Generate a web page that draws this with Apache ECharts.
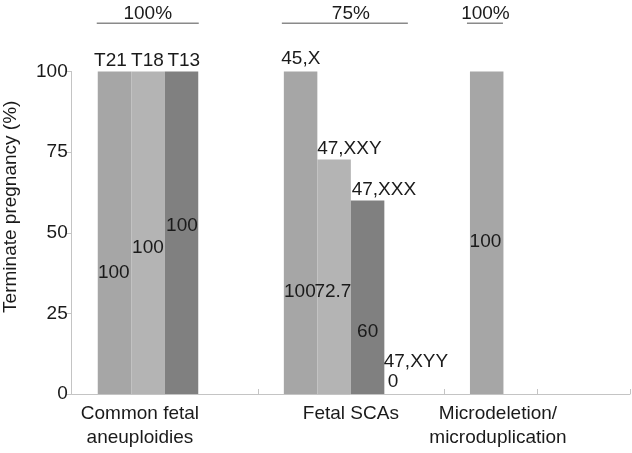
<!DOCTYPE html>
<html><head><meta charset="utf-8">
<script src="https://cdn.jsdelivr.net/npm/echarts@6/dist/echarts.min.js"></script>
<style>html,body{margin:0;padding:0;background:#fff}#c{width:632px;height:453px}</style>
</head><body><div id="c"></div>
<script>
// ---- data ----
const categories = ['Common fetal\naneuploidies', 'Fetal SCAs', 'Microdeletion/\nmicroduplication'];
const slot1Values = [100, 100, 100];
const slot2Values = [100, 72.7, null];
const slot3Values = [100, 60, null];
const slot4Values = [null, 0, null];
const slot1Names = ['T21', '45,X', ''];
const slot2Names = ['T18', '47,XXY', ''];
const slot3Names = ['T13', '47,XXX', ''];
const slot4Names = ['', '47,XYY', ''];
const bracketLabels = ['100%', '75%', '100%'];
const yTicks = [0, 25, 50, 75, 100];

// ---- layout / style ----
const FONT = '"Liberation Sans", Arial, Helvetica, sans-serif';
const FS = 19;
const TXT = '#1a1a1a';
const BAR_W = 33.5;
const colors = ['#a6a6a6', '#b4b4b4', '#808080', '#a6a6a6'];
// label centre offsets [dx, dy] from bar top-left
const valueLabelPos = [
  [[16, 201.5], [16, 220], [15.5, 170]],
  [[16.7, 176.5], [15.6, 132.3], null],
  [[17.2, 154.5], [16.8, 131], null],
  [null, [8.6, -12.3], null]
];
const nameLabelPos = [
  [[12.7, -10.5], [17, -12.5], null],
  [[16.2, -10.5], [32, -10.4], null],
  [[19, -10.5], [33, -10.5], null],
  [null, [31.6, -32.3], null]
];
// bracket: [lineStart dx, lineEnd dx, text dx] from category centre
const bracketLayout = [[-68, 34, -17], [-69, 57, 0], [-70, -34, -51.5]];
const labelShift = [49.6, 0, 78];

const values = [slot1Values, slot2Values, slot3Values, slot4Values];
const names = [slot1Names, slot2Names, slot3Names, slot4Names];

const series = [];
values.forEach((vals, s) => {
  series.push({
    type: 'bar', xAxisIndex: 0, yAxisIndex: 0, barWidth: BAR_W, barGap: '0%',
    silent: true, animation: false,
    itemStyle: { color: colors[s] },
    label: { fontFamily: FONT, fontSize: FS, color: TXT, formatter: p => String(p.value) },
    data: vals.map((v, i) => ({
      value: v,
      label: {
        show: v != null && valueLabelPos[s][i] != null,
        position: valueLabelPos[s][i] || [0, 0],
        align: 'center', verticalAlign: 'middle'
      }
    }))
  });
});
values.forEach((vals, s) => {
  series.push({
    type: 'bar', xAxisIndex: 1, yAxisIndex: 0, barWidth: BAR_W, barGap: '0%',
    silent: true, animation: false,
    itemStyle: { color: 'rgba(0,0,0,0)' },
    label: { fontFamily: FONT, fontSize: FS, color: TXT, formatter: p => names[s][p.dataIndex] },
    data: vals.map((v, i) => ({
      value: v,
      label: {
        show: v != null && nameLabelPos[s][i] != null && names[s][i] !== '',
        position: nameLabelPos[s][i] || [0, 0],
        align: 'center', verticalAlign: 'middle'
      }
    }))
  });
});
series.push({
  type: 'custom', xAxisIndex: 0, yAxisIndex: 0, silent: true, animation: false, clip: false,
  data: bracketLabels.map((t, i) => [i, yTicks[yTicks.length - 1]]),
  renderItem: (params, api) => {
    const cx = api.coord([api.value(0), api.value(1)])[0];
    const L = bracketLayout[params.dataIndex];
    return {
      type: 'group', children: [
        { type: 'line', shape: { x1: cx + L[0], y1: 23.3, x2: cx + L[1], y2: 23.3 },
          style: { stroke: '#8a8a8a', lineWidth: 1.5 } },
        { type: 'text', x: cx + L[2], y: 13.5,
          style: { text: bracketLabels[params.dataIndex], fill: TXT, fontSize: FS, fontFamily: FONT,
                   align: 'center', verticalAlign: 'middle' } }
      ]
    };
  }
});

const chart = echarts.init(document.getElementById('c'), null, { renderer: 'canvas' });
chart.setOption({
  animation: false,
  backgroundColor: '#fff',
  grid: { left: 71.7, right: 2, top: 71.5, bottom: 59, containLabel: false, outerBoundsMode: 'none' },
  xAxis: [
    {
      type: 'category',
      data: categories.map((c, i) => ({ value: c, textStyle: { padding: [0, labelShift[i], 0, 0] } })),
      axisLine: { lineStyle: { color: '#c4c4c4', width: 1 } },
      axisTick: { show: true, inside: true, alignWithLabel: true, length: 5, lineStyle: { color: '#c4c4c4' } },
      axisLabel: { fontFamily: FONT, fontSize: FS, color: TXT, margin: 8, lineHeight: 24, interval: 0 },
      splitLine: { show: false }
    },
    {
      type: 'category', position: 'bottom',
      data: categories,
      axisLine: { show: false },
      axisTick: { show: true, inside: true, alignWithLabel: false, length: 5, lineStyle: { color: '#c4c4c4' } },
      axisLabel: { show: false },
      splitLine: { show: false }
    }
  ],
  yAxis: {
    type: 'value', min: yTicks[0], max: yTicks[yTicks.length - 1], interval: 25,
    name: 'Terminate pregnancy (%)', nameLocation: 'middle', nameGap: 51,
    nameTextStyle: { fontFamily: FONT, fontSize: FS, color: TXT, padding: [0, 0, 0, 52] },
    axisLine: { show: true, lineStyle: { color: '#c4c4c4', width: 1 } },
    axisTick: { show: true, length: 6, lineStyle: { color: '#c4c4c4' } },
    axisLabel: { fontFamily: FONT, fontSize: FS, color: TXT, margin: 4 },
    splitLine: { show: false }
  },
  series: series
});
</script>
</body></html>
